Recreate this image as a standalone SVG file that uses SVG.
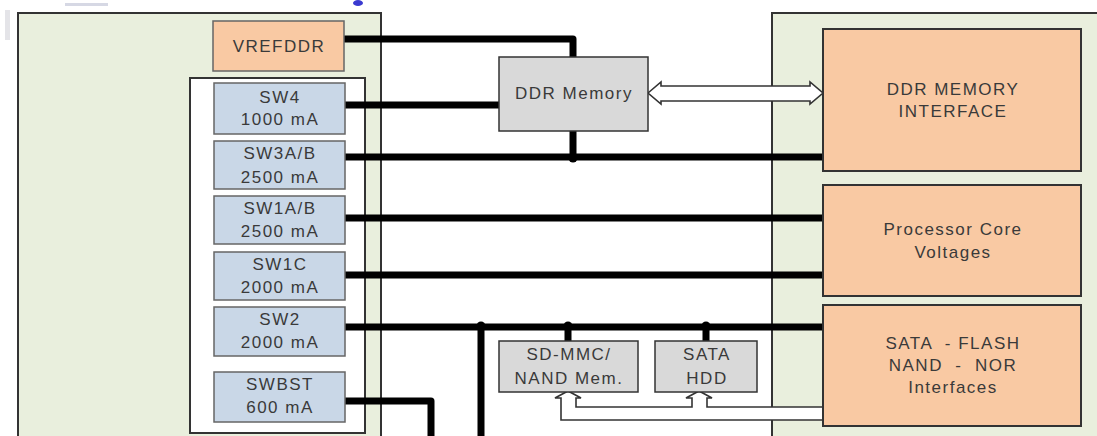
<svg xmlns="http://www.w3.org/2000/svg" width="1097" height="436" viewBox="0 0 1097 436">
<style>
.panel{fill:#e9efdd;stroke:#333;stroke-width:2}
.inner{fill:#ffffff;stroke:#333;stroke-width:2}
.sw{fill:#c9d7e7;stroke:#666;stroke-width:1.5}
.peach{fill:#f9c9a3;stroke:#333;stroke-width:2}
.vref{fill:#f9c9a3;stroke:#666;stroke-width:1.5}
.gray{fill:#d9d9d9;stroke:#333;stroke-width:1.5}
text{font-family:"Liberation Sans",Arial,sans-serif;font-size:17px;letter-spacing:1.5px;fill:#3a3a3a;text-anchor:middle}
.bus{fill:none;stroke:#000;stroke-width:7;stroke-linecap:round;stroke-linejoin:round}
.hollow{fill:#fff;stroke:#333;stroke-width:1.6;stroke-linejoin:miter}
</style>
<rect width="1097" height="436" fill="#fff"/>
<rect x="5" y="10" width="5" height="30" fill="#e4e4e8"/>
<rect x="65" y="3" width="43" height="3" fill="#d6d8e4"/>
<ellipse cx="358" cy="3" rx="5" ry="3" fill="#3a3ad0"/>
<g id="left-panel">
<rect class="panel" x="18" y="13" width="363" height="440"/>
<rect class="inner" x="190" y="78" width="175" height="355"/>
</g>
<g id="right-panel">
<rect class="panel" x="772" y="13" width="340" height="440"/>
</g>
<g id="connectors">
<path class="bus" d="M345 39 H573 V57"/>
<path class="bus" d="M345 105 H499"/>
<path class="bus" d="M345 157 H822"/>
<path class="bus" d="M573 131 V157"/>
<circle cx="573" cy="158" r="4.5"/>
<path class="bus" d="M345 218 H822"/>
<path class="bus" d="M345 275 H822"/>
<path class="bus" d="M345 327 H822"/>
<path class="bus" d="M345 401 H431 V440"/>
<path class="bus" d="M481 327 V440"/>
<circle cx="481" cy="326" r="4.5"/>
<path class="bus" d="M568 327 V341"/>
<circle cx="568" cy="326" r="4.5"/>
<path class="bus" d="M706 327 V341"/>
<circle cx="706" cy="326" r="4.5"/>
<path class="hollow" d="M648 93 L661 82 V86 H810 V82 L823 93 L810 104 V101 H661 V104 Z"/>
<path fill="#fff" d="M823 407 H707 V398 H712 L699 391 L686 398 H692 V407 H576 V398 H581 L568 391 L555 398 H561 V420 H823 Z"/>
<path class="hollow" d="M823 407 H707 V398 H712 L699 391 L686 398 H692 V407 H576 V398 H581 L568 391 L555 398 H561 V420 H823" style="fill:none"/>
</g>
<g id="vrefddr">
<rect class="vref" x="213" y="21" width="131" height="50"/>
<text x="279" y="52">VREFDDR</text>
</g>
<g id="sw4">
<rect class="sw" x="214" y="83" width="131" height="51"/>
<text x="280" y="103">SW4</text>
<text x="280" y="125">1000 mA</text>
</g>
<g id="sw3ab">
<rect class="sw" x="214" y="141" width="131" height="48"/>
<text x="280" y="159">SW3A/B</text>
<text x="280" y="183">2500 mA</text>
</g>
<g id="sw1ab">
<rect class="sw" x="214" y="196" width="131" height="48"/>
<text x="280" y="214">SW1A/B</text>
<text x="280" y="237">2500 mA</text>
</g>
<g id="sw1c">
<rect class="sw" x="214" y="252" width="131" height="48"/>
<text x="280" y="270">SW1C</text>
<text x="280" y="293">2000 mA</text>
</g>
<g id="sw2">
<rect class="sw" x="214" y="307" width="131" height="49"/>
<text x="280" y="325">SW2</text>
<text x="280" y="348">2000 mA</text>
</g>
<g id="swbst">
<rect class="sw" x="214" y="372" width="131" height="50"/>
<text x="280" y="390">SWBST</text>
<text x="280" y="413">600 mA</text>
</g>
<g id="ddr-memory">
<rect class="gray" x="499" y="57" width="149" height="74"/>
<text x="574" y="99">DDR Memory</text>
</g>
<g id="sd-mmc">
<rect class="gray" x="499" y="341" width="139" height="51"/>
<text x="569" y="360">SD-MMC/</text>
<text x="569" y="384">NAND Mem.</text>
</g>
<g id="sata-hdd">
<rect class="gray" x="655" y="341" width="102" height="51"/>
<text x="707" y="360">SATA</text>
<text x="707" y="384">HDD</text>
</g>
<g id="ddr-interface">
<rect class="peach" x="823" y="29" width="258" height="142"/>
<text x="953" y="95">DDR MEMORY</text>
<text x="953" y="117">INTERFACE</text>
</g>
<g id="processor-core">
<rect class="peach" x="823" y="185" width="258" height="111"/>
<text x="953" y="235">Processor Core</text>
<text x="953" y="258">Voltages</text>
</g>
<g id="sata-flash">
<rect class="peach" x="823" y="305" width="258" height="121"/>
<text x="953" y="349" style="white-space:pre">SATA  - FLASH</text>
<text x="953" y="371" style="white-space:pre">NAND  -  NOR</text>
<text x="953" y="393">Interfaces</text>
</g>
</svg>
